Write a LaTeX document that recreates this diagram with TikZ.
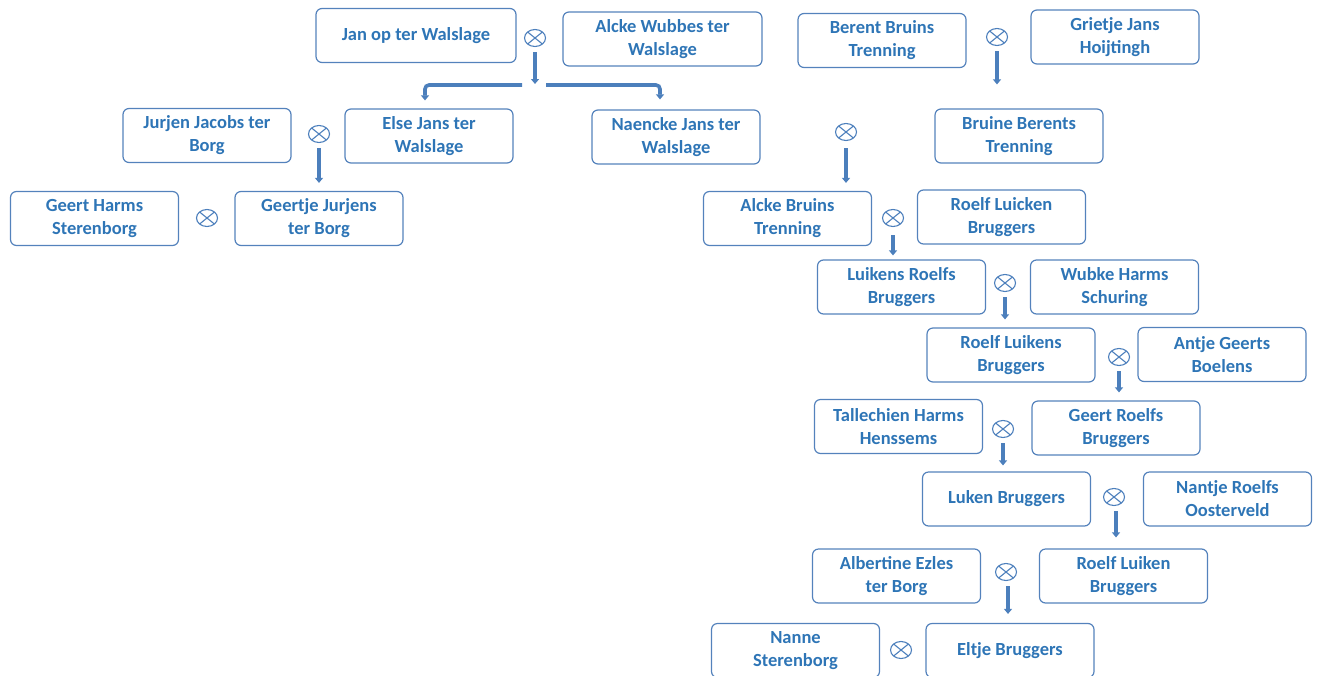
\documentclass[tikz,border=0pt]{standalone}
\usepackage{fontspec}
\setmainfont{Carlito}
\usetikzlibrary{arrows.meta,shapes.geometric}
\definecolor{nametext}{RGB}{46,117,182}
\definecolor{boxline}{RGB}{84,130,188}
\definecolor{linkline}{RGB}{76,127,188}

\begin{document}
\begin{tikzpicture}[x=1pt,y=-1pt,
  person/.style={draw=boxline, line width=1.2pt, rounded corners=6pt,
    minimum width=168pt, minimum height=54pt, inner sep=2pt, align=center,
    text=nametext, font=\fontsize{18.5}{23}\selectfont\bfseries},
  wed/.style={ellipse, draw=linkline, line width=1.1pt, minimum width=21pt,
    minimum height=17pt, inner sep=0pt,
    path picture={\draw[linkline, line width=1.1pt]
      (path picture bounding box.south west) -- (path picture bounding box.north east)
      (path picture bounding box.north west) -- (path picture bounding box.south east);}},
  desc/.style={draw=linkline, line width=3.6pt, -{Triangle[width=8pt,length=5pt]},
    shorten <=5pt, shorten >=8pt}]
  \useasboundingbox (0,0) rectangle (1319,675);

  % ter Walslage
  \node[person, minimum width=200pt] (jan) at (416,35.5) {Jan op ter Walslage};
  \node[person, minimum width=199pt] (alckew) at (662.5,39) {Alcke Wubbes ter\\Walslage};
  \node[wed] (w1) at (535,38) {};
  \node[person] (else) at (429,136) {Else Jans ter\\Walslage};
  \node[person] (naencke) at (676,137) {Naencke Jans ter\\Walslage};
  \coordinate (split) at (535,85);
  \coordinate (splitl) at (522,85);
  \coordinate (splitr) at (546,85);

  % ter Borg / Sterenborg
  \node[person] (jurjen) at (207,135.5) {Jurjen Jacobs ter\\Borg};
  \node[wed] (w3) at (319,134) {};
  \node[person] (geerth) at (94.5,218.5) {Geert Harms\\Sterenborg};
  \node[person] (geertje) at (319,218.5) {Geertje Jurjens\\ter Borg};
  \node[wed] (w5) at (207,218) {};

  % Trenning
  \node[person] (berent) at (882,40.5) {Berent Bruins\\Trenning};
  \node[person] (grietje) at (1115,37) {Grietje Jans\\Hoijtingh};
  \node[wed] (w2) at (997,37) {};
  \node[person] (bruine) at (1019,136) {Bruine Berents\\Trenning};
  \node[wed] (w4) at (846,132) {};

  % Bruggers
  \node[person] (alckeb) at (787.5,218.5) {Alcke Bruins\\Trenning};
  \node[person] (roelfl) at (1001.5,217) {Roelf Luicken\\Bruggers};
  \node[wed] (w6) at (893,218) {};
  \node[person] (luikens) at (901.5,287) {Luikens Roelfs\\Bruggers};
  \node[person] (wubke) at (1114.5,287) {Wubke Harms\\Schuring};
  \node[wed] (w7) at (1005,283) {};
  \node[person] (roelflk) at (1011,355) {Roelf Luikens\\Bruggers};
  \node[person] (antje) at (1222,354.5) {Antje Geerts\\Boelens};
  \node[wed] (w8) at (1119,357) {};
  \node[person] (tallechien) at (898.5,426.5) {Tallechien Harms\\Henssems};
  \node[person] (geertr) at (1116,428) {Geert Roelfs\\Bruggers};
  \node[wed] (w9) at (1003,429) {};
  \node[person] (luken) at (1006.5,499) {Luken Bruggers};
  \node[person] (nantje) at (1227.5,499) {Nantje Roelfs\\Oosterveld};
  \node[wed] (w10) at (1114,497) {};
  \node[person] (albertine) at (896.5,576) {Albertine Ezles\\ter Borg};
  \node[person] (roelfln) at (1123.5,576) {Roelf Luiken\\Bruggers};
  \node[wed] (w11) at (1006,572) {};
  \node[person] (nanne) at (795.5,650.5) {Nanne\\Sterenborg};
  \node[person] (eltje) at (1010,650.5) {Eltje Bruggers};
  \node[wed] (w12) at (901,650) {};

  % descent
  \draw[desc, shorten >=1pt] (w1) -- (split);
  \draw[desc, rounded corners=4pt, shorten <=0pt]
    (splitl) -| ([xshift=-4pt]else.north);
  \draw[desc, rounded corners=4pt, shorten <=0pt, shorten >=10pt]
    (splitr) -| ([xshift=-16pt]naencke.north);
  \draw[desc, shorten >=24pt] (w2) -- (w2 |- bruine.north);
  \draw[desc] (w3) -- (w3 |- geertje.north);
  \draw[desc, shorten <=7pt] (w4) -- (w4 |- alckeb.north);
  \draw[desc, shorten <=8pt, shorten >=4pt] (w6) -- (w6 |- luikens.north);
  \draw[desc] (w7) -- (w7 |- roelflk.north);
  \draw[desc] (w8) -- (w8 |- geertr.north);
  \draw[desc, shorten >=6pt] (w9) -- (w9 |- luken.north);
  \draw[desc, shorten >=11pt] ([xshift=2pt]w10.south) -- ([xshift=2pt]w10 |- roelfln.north);
  \draw[desc, shorten >=9pt] ([xshift=2pt]w11.south) -- ([xshift=2pt]w11 |- eltje.north);
\end{tikzpicture}
\end{document}
